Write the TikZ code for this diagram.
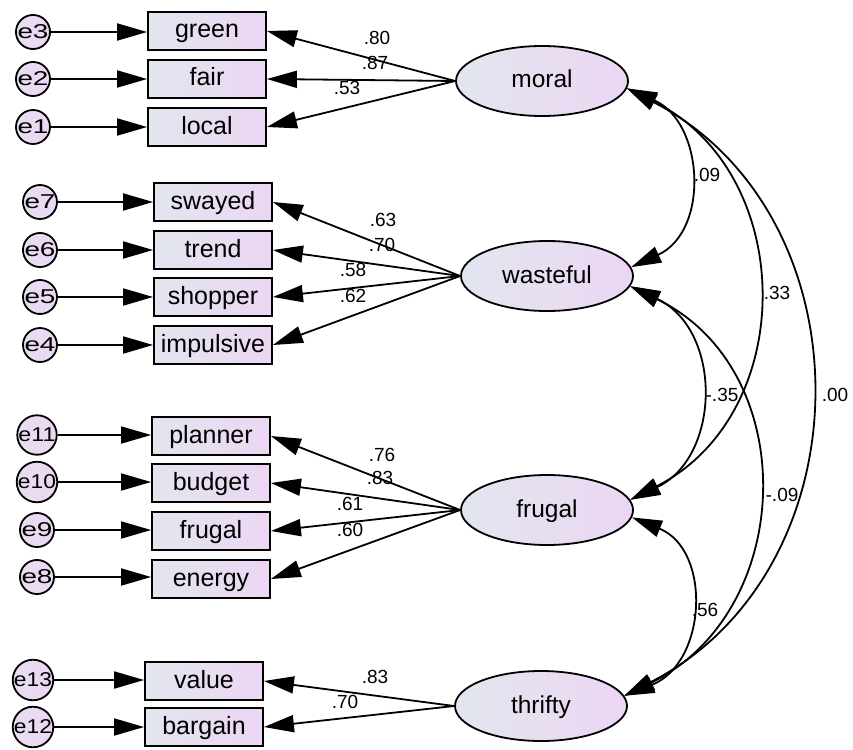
\documentclass[tikz,border=0pt]{standalone}
\usepackage{fontspec}
\setmainfont{Liberation Sans}
\usetikzlibrary{arrows.meta,shapes.geometric}
\definecolor{gl}{RGB}{226,230,238}
\definecolor{gr}{RGB}{236,214,243}
\newcommand{\efit}[2]{\resizebox{#1}{\height}{#2}}
\begin{document}
\begin{tikzpicture}[x=1pt,y=-1pt,
 obs/.style={draw,line width=1.8pt,minimum width=118pt,minimum height=38pt,left color=gl,right color=gr,inner sep=0pt,text height=19pt,text depth=5pt,font=\fontsize{25}{27}\selectfont},
 lat/.style={ellipse,draw,line width=1.8pt,minimum width=172pt,minimum height=70pt,left color=gl,right color=gr,inner sep=0pt,text height=19pt,text depth=5pt,font=\fontsize{24.5}{26}\selectfont},
 err/.style={circle,draw,line width=1.8pt,minimum size=34pt,inner sep=0pt,left color=gl!50!gr,right color=gr,font=\fontsize{20}{22}\selectfont},
 arr/.style={line width=1.8pt,-{Triangle[length=30pt,width=17pt]}},
 cov/.style={line width=1.8pt,{Triangle[length=30pt,width=17pt]}-{Triangle[length=30pt,width=17pt]}},
 lbl/.style={font=\fontsize{19}{20}\selectfont,inner sep=0pt}
]
\useasboundingbox[fill=white] (0,0) rectangle (853,749);

% latent variables
\node[lat] (moral) at (542,81) {moral};
\node[lat] (wasteful) at (547,276) {wasteful};
\node[lat] (frugalL) at (547,510) {frugal};
\node[lat] (thrifty) at (541,706) {thrifty};

% observed
\node[obs] (green) at (207,31) {green};
\node[obs] (fair) at (207,79) {fair};
\node[obs] (local) at (207,127) {local};
\node[obs] (swayed) at (213,202) {swayed};
\node[obs] (trend) at (213,250) {trend};
\node[obs] (shopper) at (213,297) {shopper};
\node[obs] (impulsive) at (213,345) {impulsive};
\node[obs] (planner) at (211,436) {planner};
\node[obs] (budget) at (211,483) {budget};
\node[obs] (frugalO) at (211,531) {frugal};
\node[obs] (energy) at (211,579) {energy};
\node[obs] (value) at (204,681) {value};
\node[obs] (bargain) at (204,727) {bargain};

% errors
\node[err] (e3) at (33,32) {\efit{31pt}{e3}};
\node[err] (e2) at (33,79) {\efit{31pt}{e2}};
\node[err] (e1) at (33,127) {\efit{31pt}{e1}};
\node[err] (e7) at (40,202) {\efit{31pt}{e7}};
\node[err] (e6) at (40,250) {\efit{31pt}{e6}};
\node[err] (e5) at (40,297) {\efit{31pt}{e5}};
\node[err] (e4) at (40,345) {\efit{31pt}{e4}};
\node[err] (e11) at (37,435) {\efit{37pt}{e11}};
\node[err] (e10) at (37,482) {\efit{38pt}{e10}};
\node[err] (e9) at (37,530) {\efit{31pt}{e9}};
\node[err] (e8) at (37,577) {\efit{31pt}{e8}};
\node[err] (e13) at (33,680) {\efit{38pt}{e13}};
\node[err] (e12) at (33,727) {\efit{38pt}{e12}};

% error arrows
\foreach \e/\b in {e3/green,e2/fair,e1/local,e7/swayed,e6/trend,e5/shopper,e4/impulsive,e11/planner,e10/budget,e9/frugalO,e8/energy,e13/value,e12/bargain}
  \draw[arr] (\e) -- (\b.west |- \e);

% loadings
\foreach \b in {green,fair,local} \draw[arr] (moral.west) -- (\b.east);
\foreach \b in {swayed,trend,shopper,impulsive} \draw[arr] (wasteful.west) -- (\b.east);
\foreach \b in {planner,budget,frugalO,energy} \draw[arr] (frugalL.west) -- (\b.east);
\foreach \b in {value,bargain} \draw[arr] (thrifty.west) -- (\b.east);

% loading labels
\node[lbl] (l1) at (377,38) {.80};
\node[lbl] (l2) at (375,63) {.87};
\node[lbl] (l3) at (347,88) {.53};
\node[lbl] (l4) at (383,220) {.63};
\node[lbl] (l5) at (382,245) {.70};
\node[lbl] (l6) at (353,270) {.58};
\node[lbl] (l7) at (353,296) {.62};
\node[lbl] (l8) at (382,455) {.76};
\node[lbl] (l9) at (380,478) {.83};
\node[lbl] (l10) at (350,504) {.61};
\node[lbl] (l11) at (350,530) {.60};
\node[lbl] (l12) at (375,677) {.83};
\node[lbl] (l13) at (345,702) {.70};

% covariances
\draw[cov] (moral.-5) .. controls (704,122) and (710,231) .. (wasteful.6);
\draw[cov] (moral.-5) .. controls (797,172) and (800,413) .. (frugalL.7);
\draw[cov] (moral.-5) .. controls (870,214) and (870,569) .. (thrifty.7);
\draw[cov] (wasteful.-7) .. controls (723,330) and (721,457) .. (frugalL.7);
\draw[cov] (wasteful.-7) .. controls (803,370) and (796,612) .. (thrifty.7);
\draw[cov] (frugalL.-5) .. controls (712,550) and (707,663) .. (thrifty.7);

% covariance labels
\node[lbl] (c1) at (707,175) {.09};
\node[lbl] (c2) at (777,293) {.33};
\node[lbl] (c3) at (835,395) {.00};
\node[lbl] (c4) at (722,395) {-.35};
\node[lbl] (c5) at (782,495) {-.09};
\node[lbl] (c6) at (705,610) {.56};
\end{tikzpicture}
\end{document}
